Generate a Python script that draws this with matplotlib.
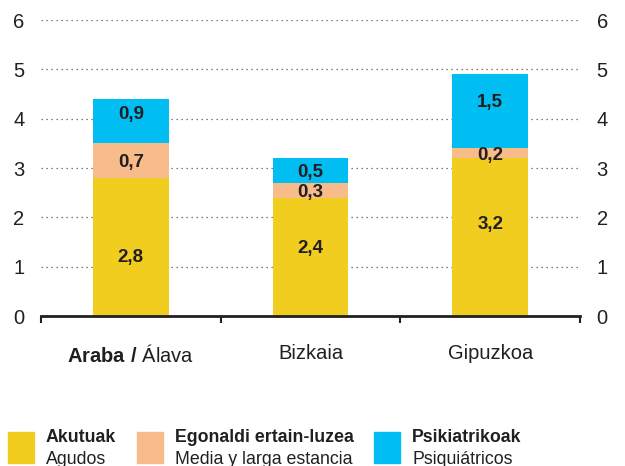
import matplotlib.pyplot as plt
import numpy as np
from matplotlib.patches import Rectangle

plt.rcParams['font.family'] = 'Liberation Sans'
plt.rcParams['mathtext.fontset'] = 'custom'
plt.rcParams['mathtext.rm'] = 'Liberation Sans'
plt.rcParams['mathtext.bf'] = 'Liberation Sans:bold'

""" data """

regions = [r"$\mathbf{Araba\ /}$ Álava", "Bizkaia", "Gipuzkoa"]
agudos = [2.8, 2.4, 3.2]
media_larga = [0.7, 0.3, 0.2]
psiquiatricos = [0.9, 0.5, 1.5]

series_eu = ["Akutuak", "Egonaldi ertain-luzea", "Psikiatrikoak"]
series_es = ["Agudos", "Media y larga estancia", "Psiquiátricos"]
colors = ["#F1CD1F", "#F8BB8A", "#00BDF2"]

# small vertical shifts of the value labels (as in the original layout)
nudge = [[-0.18, 0.0, 0.17],
         [0.2, 0.0, 0.0],
         [0.3, 0.0, 0.22]]

ink = "#231F20"

fig = plt.figure(figsize=(6.25, 4.66), dpi=100)
ax = fig.add_axes([41/625, 150/466, 539/625, 296/466])

x = np.arange(len(regions))
width = 0.42
bottom = np.zeros(len(regions))
for k, vals in enumerate([agudos, media_larga, psiquiatricos]):
    vals = np.array(vals)
    ax.bar(x, vals, width, bottom=bottom, color=colors[k], zorder=2)
    for i in range(len(x)):
        ax.text(x[i], bottom[i] + vals[i] / 2 + nudge[i][k],
                f"{vals[i]:.1f}".replace(".", ","),
                ha="center", va="center_baseline", fontsize=13.5, fontweight="bold",
                color=ink, zorder=3)
    bottom += vals

ax.set_xlim(-0.5, 2.5)
ax.set_ylim(0, 6)
ax.set_yticks(range(7))
ax.grid(axis="y", linestyle=(0, (1, 3)), linewidth=0.9, color="#555555")
ax.set_axisbelow(True)

for s in ["left", "right", "top"]:
    ax.spines[s].set_visible(False)
ax.spines["bottom"].set_linewidth(2)
ax.spines["bottom"].set_color(ink)

ax.set_xticks(x)
ax.set_xticklabels(regions, fontsize=14.5, color=ink)
ax.set_xticks([-0.5, 0.5, 1.5, 2.5], minor=True)
ax.tick_params(axis="x", which="major", length=0, pad=20)
ax.tick_params(axis="x", which="minor", length=5, width=1.5, color=ink, direction="out")
ax.tick_params(axis="y", length=0, labelsize=14.5, labelcolor=ink,
               pad=12, labelright=True)

""" legend """

lx = [8, 137, 374]
for k in range(3):
    fig.add_artist(Rectangle((lx[k]/625, 3/466), 26/625, 31/466,
                             transform=fig.transFigure, color=colors[k]))
    fig.text((lx[k] + 38)/625, (466 - 442)/466, series_eu[k], fontsize=12.8,
             fontweight="bold", color=ink, ha="left", va="baseline")
    fig.text((lx[k] + 38)/625, (466 - 464)/466, series_es[k], fontsize=12.8,
             color=ink, ha="left", va="baseline")

plt.savefig("out.png", dpi=100)
